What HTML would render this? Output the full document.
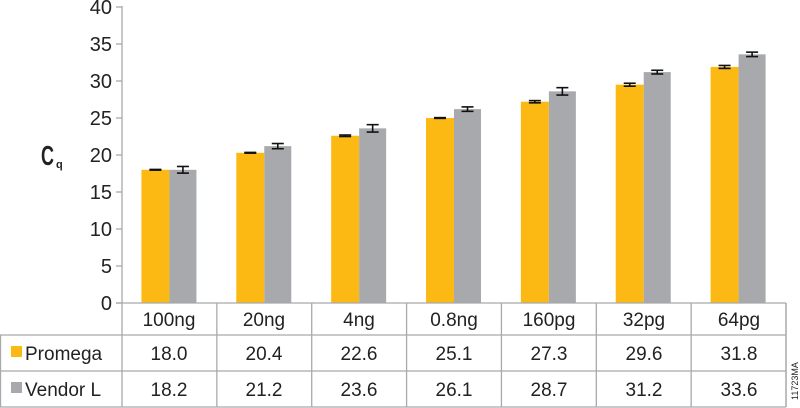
<!DOCTYPE html>
<html><head><meta charset="utf-8"><style>
html,body{margin:0;padding:0;background:#fff;}
svg{display:block;font-family:"Liberation Sans",sans-serif;}
</style></head><body>
<svg id="s" width="800" height="408" viewBox="0 0 800 408" xmlns="http://www.w3.org/2000/svg">
<g id="bars"></g>
<g stroke="#a7a9ac" stroke-width="1.3" fill="none">
<line x1="122" y1="6" x2="122" y2="407"/>
<line x1="116" y1="303" x2="786" y2="303"/>
<line x1="0" y1="335" x2="786" y2="335"/>
<line x1="0" y1="371" x2="786" y2="371"/>
<line x1="0" y1="407" x2="786" y2="407"/>
<line x1="0.5" y1="335" x2="0.5" y2="407"/>
<line x1="786" y1="303" x2="786" y2="407"/>
<g id="ticks"></g><g id="cols"></g>
</g>
<g font-size="20" fill="#222" text-anchor="end">
<text x="112" y="14">40</text><text x="112" y="51">35</text><text x="112" y="88">30</text>
<text x="112" y="125">25</text><text x="112" y="162">20</text><text x="112" y="199">15</text>
<text x="112" y="236">10</text><text x="112" y="273">5</text><text x="112" y="310">0</text>
</g>
<text transform="translate(41,165) scale(0.75,1.15)" font-size="24" font-weight="bold" fill="#222">C</text>
<text x="56" y="168" font-size="11" font-weight="bold" fill="#222">q</text>
<g font-size="19" fill="#222" text-anchor="middle">
<text x="169" y="326">100ng</text><text x="264" y="326">20ng</text><text x="359" y="326">4ng</text>
<text x="454" y="326">0.8ng</text><text x="549" y="326">160pg</text><text x="644" y="326">32pg</text><text x="739" y="326">64pg</text>
<text x="169" y="360">18.0</text><text x="264" y="360">20.4</text><text x="359" y="360">22.6</text>
<text x="454" y="360">25.1</text><text x="549" y="360">27.3</text><text x="644" y="360">29.6</text><text x="739" y="360">31.8</text>
<text x="169" y="396">18.2</text><text x="264" y="396">21.2</text><text x="359" y="396">23.6</text>
<text x="454" y="396">26.1</text><text x="549" y="396">28.7</text><text x="644" y="396">31.2</text><text x="739" y="396">33.6</text>
</g>
<rect x="11" y="346" width="11" height="11" fill="#fdb913"/>
<rect x="11" y="382" width="11" height="11" fill="#a7a9ac"/>
<text x="25" y="360" font-size="19" fill="#222">Promega</text>
<text x="25" y="396" font-size="19" fill="#222">Vendor L</text>
<text transform="translate(798,400) rotate(-90)" font-size="9" fill="#222">11723MA</text>
</svg>
<script>
var o=[18.0,20.3,22.6,25.0,27.2,29.5,31.9],g=[18.0,21.2,23.6,26.2,28.6,31.2,33.6],
eo=[0.05,0.05,0.1,0.05,0.15,0.2,0.2],eg=[0.45,0.35,0.5,0.3,0.5,0.25,0.3];
var Y=function(v){return 303-v*7.4},h='',t='',c='';
for(var i=0;i<7;i++){var cx=122+94.86*(i+.5);
h+='<rect x="'+(cx-28)+'" y="'+Y(o[i])+'" width="28" height="'+(303-Y(o[i]))+'" fill="#fdb913"/>';
h+='<rect x="'+cx+'" y="'+Y(g[i])+'" width="27" height="'+(303-Y(g[i]))+'" fill="#a7a9ac"/>';
[[cx-14,o[i],eo[i]],[cx+13.5,g[i],eg[i]]].forEach(function(a){var x=a[0],a1=Y(a[1]+a[2]),a2=Y(a[1]-a[2]);
h+='<g stroke="#111" stroke-width="1.6"><line x1="'+x+'" y1="'+a1+'" x2="'+x+'" y2="'+a2+'"/><line x1="'+(x-6)+'" y1="'+a1+'" x2="'+(x+6)+'" y2="'+a1+'"/><line x1="'+(x-6)+'" y1="'+a2+'" x2="'+(x+6)+'" y2="'+a2+'"/></g>';});
c+='<line x1="'+(122+94.86*(i+1))+'" y1="303" x2="'+(122+94.86*(i+1))+'" y2="407"/>';}
for(var k=0;k<=8;k++)t+='<line x1="116" y1="'+Y(k*5)+'" x2="122" y2="'+Y(k*5)+'"/>';
document.getElementById('bars').innerHTML=h;document.getElementById('ticks').innerHTML=t;document.getElementById('cols').innerHTML=c;
</script>
</body></html>
